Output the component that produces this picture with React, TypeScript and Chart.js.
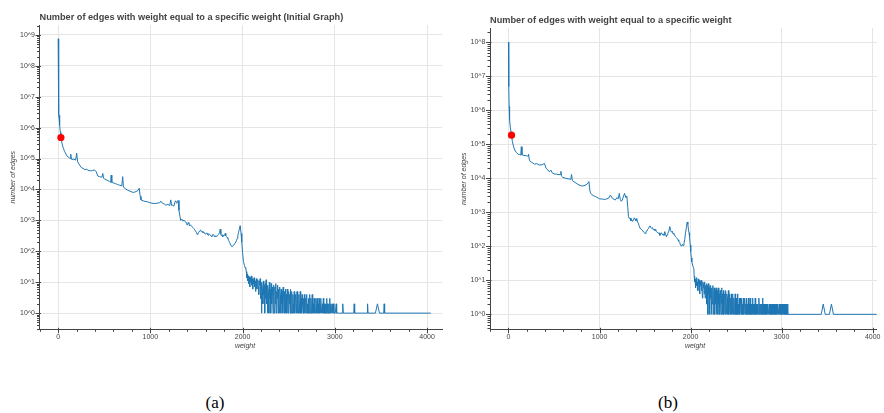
import React, { useEffect, useRef } from 'react';
import { Chart, registerables } from 'chart.js';

Chart.register(...registerables);

// ---------- DATA ----------
const titleA = 'Number of edges with weight equal to a specific weight (Initial Graph)';
const titleB = 'Number of edges with weight equal to a specific weight';
const xLabel = 'weight';
const yLabel = 'number of edges';
const captions = ['(a)', '(b)'];

const xTicks = [0, 1000, 2000, 3000, 4000];
const yExponentsA = [0, 1, 2, 3, 4, 5, 6, 7, 8, 9];
const yExponentsB = [0, 1, 2, 3, 4, 5, 6, 7, 8];

// highlighted point [weight, count]
const dotA: [number, number] = [30, 4.8e5];
const dotB: [number, number] = [33, 1.86e5];

// head of the distribution [weight, count]
const curveA: [number, number][] = [
  [0, 7.5e8], [3, 6e7], [6, 8e6], [9, 2.5e6], [12, 1.8e6], [15, 2.5e6], [18, 1.2e6], [24, 7e5],
  [30, 4.8e5], [43, 3e5], [58, 2.1e5], [72, 1.66e5], [90, 1.3e5], [108, 1.12e5], [122, 1.05e5],
  [130, 1.0e5], [137, 1.38e5], [144, 9.5e4], [151, 9.3e4], [170, 9.6e4], [190, 8.9e4],
  [201, 1.5e5], [212, 7.8e4], [232, 6.2e4], [252, 5.1e4], [270, 4.8e4], [290, 4.4e4],
  [310, 4.5e4], [323, 4.2e4], [350, 4.0e4], [372, 4.1e4], [395, 4.3e4], [413, 3.7e4],
  [431, 2.7e4], [449, 2.6e4], [475, 2.5e4], [484, 3.3e4], [493, 2.3e4], [503, 2.2e4],
  [530, 2.0e4], [557, 1.8e4], [570, 1.7e4], [575, 2.9e4], [582, 1.7e4], [592, 1.66e4],
  [620, 1.55e4], [645, 1.45e4], [664, 1.38e4], [690, 1.3e4], [700, 2.6e4], [708, 1.2e4],
  [718, 1.12e4], [750, 9.6e3], [790, 8.5e3], [815, 8.0e3], [844, 8.5e3], [870, 9.5e3],
  [879, 1.1e4], [890, 6e3], [898, 4.6e3], [930, 4.2e3], [969, 4.0e3], [1000, 3.7e3],
  [1041, 3.5e3], [1070, 3.6e3], [1100, 3.7e3], [1113, 4.2e3], [1130, 3.6e3], [1150, 3.4e3],
  [1167, 3.1e3], [1190, 3.3e3], [1210, 3.0e3], [1221, 4.6e3], [1232, 3.0e3], [1240, 3.1e3],
  [1255, 2.9e3], [1265, 3.8e3], [1274, 4.3e3], [1284, 3.6e3], [1292, 4.0e3], [1300, 4.4e3],
  [1310, 2.1e3], [1328, 1.0e3], [1340, 1.1e3], [1350, 9.5e2], [1365, 1.0e3], [1382, 9.1e2],
  [1392, 8.0e2], [1400, 7e2], [1410, 8.5e2], [1418, 7.9e2], [1426, 6.6e2], [1435, 7.2e2],
  [1450, 6.3e2], [1461, 5.9e2], [1471, 5.5e2], [1480, 5.0e2], [1490, 4.5e2], [1500, 4.0e2],
  [1508, 3.5e2], [1516, 3.9e2], [1525, 4.1e2], [1534, 4.6e2], [1544, 4.9e2], [1552, 4.3e2],
  [1560, 4.4e2], [1570, 4.0e2], [1580, 4.2e2], [1590, 3.7e2], [1600, 3.6e2], [1608, 3.9e2],
  [1615, 3.8e2], [1624, 3.4e2], [1632, 3.3e2], [1641, 3.6e2], [1650, 3.4e2], [1659, 3.1e2],
  [1668, 3.0e2], [1676, 3.5e2], [1687, 3.4e2], [1694, 3.1e2], [1700, 2.9e2], [1710, 3.2e2],
  [1720, 3.0e2], [1730, 3.3e2], [1740, 3.5e2], [1750, 4.1e2], [1758, 5.2e2], [1764, 3.6e2],
  [1770, 3.2e2], [1777, 3.4e2], [1784, 2.95e2], [1791, 3.2e2], [1798, 3.4e2], [1805, 3.3e2],
  [1812, 3.8e2], [1818, 3.2e2], [1826, 3.0e2], [1833, 2.8e2], [1840, 2.6e2], [1850, 2.2e2],
  [1860, 1.9e2], [1872, 1.6e2], [1884, 1.4e2], [1895, 1.5e2], [1905, 1.6e2], [1916, 1.8e2],
  [1927, 2.0e2], [1935, 2.3e2], [1942, 2.6e2], [1948, 3.2e2], [1955, 4.0e2], [1965, 5.2e2],
  [1974, 6.8e2], [1983, 3.8e2], [1991, 2.0e2], [2000, 9e1], [2009, 4.7e1], [2020, 3.5e1],
  [2027, 3.0e1], [2034, 2.8e1]
];

// noisy part, weights 2040, 2045, ... (step 5)
const noiseStartA = 2040;
const noiseA = [
  22, 14, 18, 11, 16, 9, 15, 12, 7, 14, 10, 16, 8, 13, 6, 12, 9, 14, 7, 11,
  5, 10, 13, 6, 9, 12, 7, 4, 11, 8, 13, 3, 9, 1, 10, 6, 2, 11, 4, 8,
  1, 9, 3, 12, 2, 7, 1, 8, 5, 1, 10, 3, 6, 1, 9, 2, 7, 4, 1, 8,
  3, 1, 7, 2, 9, 1, 5, 3, 8, 1, 6, 2, 1, 7, 4, 1, 6, 2, 5, 1,
  7, 3, 1, 5, 2, 6, 1, 4, 1, 6, 3, 1, 5, 2, 4, 1, 6, 1, 3, 5,
  1, 4, 2, 1, 5, 1, 3, 4, 1, 2, 5, 1, 3, 1, 4, 2, 1, 5, 1, 3,
  1, 4, 2, 1, 3, 1, 4, 1, 2, 3, 1, 4, 1, 2, 1, 3, 1, 4, 2, 1,
  3, 1, 2, 4, 1, 2, 1, 3, 1, 2, 1, 3, 2, 1, 3, 1, 2, 1, 3, 1,
  2, 1, 3, 1, 1, 2, 1, 3, 1, 2, 1, 1, 2, 1, 3, 1, 2, 1, 1, 2,
  1, 3, 1, 2, 1, 1, 2, 1, 1, 2, 1, 1, 1, 1, 1, 2, 1, 1, 1, 1
];

// flat tail with isolated spikes [weight, count]
const tailA: [number, number][] = [
  [3050, 1], [3080, 1], [3086, 2], [3092, 1], [3205, 1], [3210, 2], [3215, 1],
  [3350, 1], [3355, 2], [3360, 1], [3440, 1], [3462, 2], [3484, 1], [3530, 1],
  [3535, 2], [3540, 1], [4040, 1]
];

const curveB: [number, number][] = [
  [0, 1e8], [2, 2e7], [4, 5e6], [7, 1.3e6], [10, 8e5], [14, 5.1e5], [20, 3.2e5], [33, 1.86e5],
  [43, 1.2e5], [55, 8.8e4], [68, 6.8e4], [85, 5.8e4], [105, 5.1e4], [120, 5.0e4], [135, 4.8e4],
  [141, 8.5e4], [148, 4.9e4], [170, 4.7e4], [196, 4.6e4], [215, 4.5e4], [220, 5.1e4],
  [231, 3.3e4], [260, 2.9e4], [286, 2.6e4], [310, 2.7e4], [340, 2.45e4], [370, 2.5e4],
  [395, 2.75e4], [413, 1.95e4], [430, 1.8e4], [449, 1.55e4], [466, 1.74e4], [480, 1.45e4],
  [503, 1.35e4], [530, 1.32e4], [555, 1.28e4], [570, 1.3e4], [576, 1.6e4], [582, 1.15e4],
  [594, 1.07e4], [630, 1.0e4], [660, 9.6e3], [685, 9.3e3], [692, 1.3e4], [702, 8.5e3],
  [730, 7.6e3], [757, 6.8e3], [785, 6.2e3], [811, 5.9e3], [840, 6.2e3], [865, 6.8e3],
  [884, 8e3], [893, 4.5e3], [902, 3.6e3], [930, 3.1e3], [957, 2.9e3], [1000, 2.5e3],
  [1030, 2.45e3], [1065, 2.4e3], [1100, 2.6e3], [1120, 3.2e3], [1140, 2.6e3], [1160, 2.4e3],
  [1174, 2.3e3], [1190, 2.7e3], [1205, 2.5e3], [1217, 3.6e3], [1228, 2.4e3], [1239, 2.1e3],
  [1250, 2.3e3], [1260, 2.8e3], [1275, 3.6e3], [1290, 2.7e3], [1300, 3.0e3], [1310, 1.4e3],
  [1318, 7.4e2], [1326, 6.6e2], [1335, 6.8e2], [1344, 5.6e2], [1352, 6.2e2], [1362, 5.4e2],
  [1373, 5.9e2], [1381, 6.9e2], [1390, 6.4e2], [1400, 5.6e2], [1409, 6.6e2], [1417, 5.2e2],
  [1425, 4.8e2], [1435, 4.0e2], [1445, 3.4e2], [1457, 3.2e2], [1470, 3.0e2], [1485, 2.6e2],
  [1500, 2.4e2], [1510, 2.7e2], [1520, 2.8e2], [1530, 3.2e2], [1540, 3.4e2], [1547, 3.8e2],
  [1554, 4.0e2], [1562, 3.6e2], [1570, 3.4e2], [1580, 3.6e2], [1590, 3.1e2], [1600, 3.2e2],
  [1609, 2.9e2], [1617, 3.1e2], [1625, 2.7e2], [1635, 2.6e2], [1645, 2.4e2], [1654, 2.5e2],
  [1663, 2.1e2], [1671, 2.3e2], [1680, 2.5e2], [1690, 2.2e2], [1700, 2.3e2], [1708, 2.1e2],
  [1717, 2.7e2], [1726, 2.2e2], [1735, 1.9e2], [1742, 2.2e2], [1750, 2.4e2], [1761, 2.8e2],
  [1772, 3.8e2], [1781, 2.9e2], [1790, 2.6e2], [1799, 2.8e2], [1808, 2.3e2], [1816, 2.4e2],
  [1825, 2.1e2], [1835, 1.9e2], [1845, 1.8e2], [1853, 1.7e2], [1862, 1.55e2], [1870, 1.4e2],
  [1880, 1.3e2], [1889, 1.1e2], [1898, 1.02e2], [1905, 1.1e2], [1912, 1.15e2], [1920, 1.05e2],
  [1927, 1.23e2], [1936, 1.6e2], [1945, 2.5e2], [1954, 3.6e2], [1963, 5.2e2], [1970, 4.4e2],
  [1976, 3.2e2], [1983, 2.5e2], [1989, 1.9e2], [1996, 1.1e2], [2002, 7e1], [2008, 4.6e1],
  [2014, 3.5e1], [2025, 2.6e1], [2036, 2.2e1]
];

const noiseStartB = 2040;
const noiseB = [
  13, 9, 11, 6, 10, 12, 7, 9, 5, 11, 8, 10, 4, 9, 7, 10, 5, 8, 3, 9,
  6, 8, 4, 9, 3, 7, 5, 8, 2, 7, 1, 8, 4, 6, 1, 7, 3, 5, 1, 6,
  2, 7, 1, 4, 6, 1, 5, 2, 6, 1, 3, 5, 1, 6, 2, 4, 1, 5, 3, 1,
  6, 2, 4, 1, 5, 1, 3, 4, 1, 5, 2, 1, 4, 3, 1, 5, 1, 2, 4, 1,
  3, 1, 4, 2, 1, 4, 1, 3, 1, 2, 4, 1, 3, 1, 2, 4, 1, 2, 1, 3,
  1, 3, 2, 1, 3, 1, 2, 1, 3, 1, 2, 3, 1, 2, 1, 3, 1, 2, 1, 3,
  1, 2, 1, 3, 1, 2, 1, 2, 3, 1, 2, 1, 2, 1, 3, 1, 2, 1, 2, 1,
  2, 1, 3, 1, 2, 1, 2, 1, 2, 1, 3, 1, 2, 1, 2, 1, 2, 1, 2, 1,
  2, 1, 2, 1, 1, 2, 1, 2, 1, 2, 1, 2, 1, 1, 2, 1, 2, 1, 2, 1,
  2, 1, 2, 1, 2, 1, 1, 2, 1, 2, 1, 2, 1, 2, 1, 1, 2, 1, 2, 1,
  2, 1, 2, 1, 2, 1
];

const tailB: [number, number][] = [
  [3070, 1], [3435, 1], [3457, 2], [3479, 1], [3525, 1], [3547, 2], [3569, 1], [4045, 1]
];

// ---------- STYLE ----------
const LINE = '#1f77b4';
const AXIS = '#444444';
const GRID = '#e5e5e5';
const FONT = '"Liberation Sans", Arial, sans-serif';

function buildSeries(curve: [number, number][], start: number, noise: number[], tail: [number, number][]) {
  const pts = curve.map(([x, y]) => ({ x, y }));
  noise.forEach((y, i) => pts.push({ x: start + i * 5, y }));
  tail.forEach(([x, y]) => pts.push({ x, y }));
  return pts;
}

const decorPlugin = {
  id: 'decor',
  afterDraw(chart: any, _args: any, o: any) {
    const { ctx, chartArea: ca, scales } = chart;
    const xs = scales.x;
    const ys = scales.y;
    ctx.save();
    ctx.strokeStyle = AXIS;
    ctx.lineWidth = 1;
    for (let e = -1; e <= 10; e++) {
      for (let m = 1; m <= 9; m++) {
        const v = m * Math.pow(10, e);
        if (v < ys.min || v > ys.max) continue;
        const py = Math.round(ys.getPixelForValue(v)) + 0.5;
        const out = m === 1 ? 4 : 2.5;
        const inn = m === 1 ? 1.5 : 0;
        ctx.beginPath();
        ctx.moveTo(ca.left - out, py);
        ctx.lineTo(ca.left + inn, py);
        ctx.stroke();
      }
    }
    for (let v = -200; v <= 5000; v += 200) {
      if (v < xs.min || v > xs.max) continue;
      const px = Math.round(xs.getPixelForValue(v)) + 0.5;
      const major = v % 1000 === 0;
      const out = major ? 4 : 2.5;
      const inn = major ? 1.5 : 0;
      ctx.beginPath();
      ctx.moveTo(px, ca.bottom - inn);
      ctx.lineTo(px, ca.bottom + out);
      ctx.stroke();
    }
    ctx.fillStyle = AXIS;
    ctx.font = `bold ${o.titleSize}px ${FONT}`;
    ctx.textAlign = 'left';
    ctx.textBaseline = 'middle';
    ctx.fillText(o.title, ca.left, o.titleY);
    ctx.font = `italic 7px ${FONT}`;
    ctx.textAlign = 'center';
    ctx.fillText(o.xLabel, o.xLabelX, o.xLabelY);
    ctx.translate(o.yLabelX, (ca.top + ca.bottom) / 2);
    ctx.rotate(-Math.PI / 2);
    ctx.fillText(o.yLabel, 0, 0);
    ctx.restore();
  }
};

function makeConfig(p: any) {
  return {
    type: 'line',
    data: {
      datasets: [
        {
          data: [{ x: p.dot[0], y: p.dot[1] }],
          showLine: false,
          pointRadius: 3.6,
          pointBackgroundColor: '#ff0000',
          pointBorderColor: '#ff0000',
          pointBorderWidth: 0
        },
        {
          data: p.series,
          borderColor: LINE,
          borderWidth: 1,
          pointRadius: 0,
          tension: 0,
          fill: false
        }
      ]
    },
    options: {
      animation: false,
      responsive: false,
      devicePixelRatio: 1,
      layout: { padding: { top: p.top, right: p.right, left: 0, bottom: 0 } },
      plugins: {
        legend: { display: false },
        tooltip: { enabled: false },
        title: { display: false },
        decor: p.decor
      },
      scales: {
        x: {
          type: 'linear',
          min: p.xMin,
          max: p.xMax,
          afterBuildTicks: (s: any) => { s.ticks = xTicks.map((v) => ({ value: v })); },
          afterFit: (s: any) => { s.height = p.xAxisH; },
          ticks: {
            font: { size: 7, family: FONT },
            color: AXIS,
            padding: 3.5,
            maxRotation: 0,
            autoSkip: false,
            callback: (v: any) => String(v)
          },
          grid: { color: GRID, lineWidth: 1, drawTicks: false },
          border: { display: true, color: AXIS, width: 1 }
        },
        y: {
          type: 'logarithmic',
          min: p.yMin,
          max: p.yMax,
          afterBuildTicks: (s: any) => { s.ticks = p.yExp.map((e: number) => ({ value: Math.pow(10, e) })); },
          afterFit: (s: any) => { s.width = p.yAxisW; },
          ticks: {
            font: { size: 7, family: FONT },
            color: AXIS,
            padding: 4.5,
            autoSkip: false,
            callback: (v: any) => '10^' + Math.round(Math.log10(v))
          },
          grid: { color: GRID, lineWidth: 1, drawTicks: false },
          border: { display: true, color: AXIS, width: 1 }
        }
      }
    },
    plugins: [decorPlugin]
  };
}

function Panel(props: { left: number; width: number; height: number; cfg: any }) {
  const ref = useRef<HTMLCanvasElement | null>(null);
  useEffect(() => {
    if (!ref.current) return;
    const chart = new Chart(ref.current, props.cfg);
    return () => chart.destroy();
  }, []);
  return (
    <canvas
      ref={ref}
      width={props.width}
      height={props.height}
      style={{ position: 'absolute', left: props.left, top: 0, width: props.width, height: props.height }}
    />
  );
}

export default function App() {
  const cfgA = makeConfig({
    series: buildSeries(curveA, noiseStartA, noiseA, tailA),
    dot: dotA,
    xMin: -202, xMax: 4162,
    yMin: Math.pow(10, -0.46), yMax: Math.pow(10, 9.32),
    yExp: yExponentsA,
    top: 25, right: 1, yAxisW: 39.5, xAxisH: 30.7,
    decor: { title: titleA, titleSize: 9.2, titleY: 17.7, xLabel, xLabelX: 245, xLabelY: 346.5, yLabel, yLabelX: 13.5 }
  });
  const cfgB = makeConfig({
    series: buildSeries(curveB, noiseStartB, noiseB, tailB),
    dot: dotB,
    xMin: -203, xMax: 4047,
    yMin: Math.pow(10, -0.44), yMax: Math.pow(10, 8.42),
    yExp: yExponentsB,
    top: 28, right: 3, yAxisW: 40, xAxisH: 30.7,
    decor: { title: titleB, titleSize: 9.2, titleY: 20, xLabel, xLabelX: 245, xLabelY: 346.5, yLabel, yLabelX: 14 }
  });
  return (
    <div style={{ position: 'absolute', left: 0, top: 0, width: 884, height: 413, background: '#ffffff', overflow: 'hidden' }}>
      <Panel left={0} width={446} height={360} cfg={cfgA} />
      <Panel left={450} width={434} height={360} cfg={cfgB} />
      <div style={{ position: 'absolute', left: 215, top: 403, transform: 'translate(-50%, -50%)', font: '17px "Liberation Serif", "Times New Roman", serif', color: '#000' }}>{captions[0]}</div>
      <div style={{ position: 'absolute', left: 668, top: 403, transform: 'translate(-50%, -50%)', font: '17px "Liberation Serif", "Times New Roman", serif', color: '#000' }}>{captions[1]}</div>
    </div>
  );
}
